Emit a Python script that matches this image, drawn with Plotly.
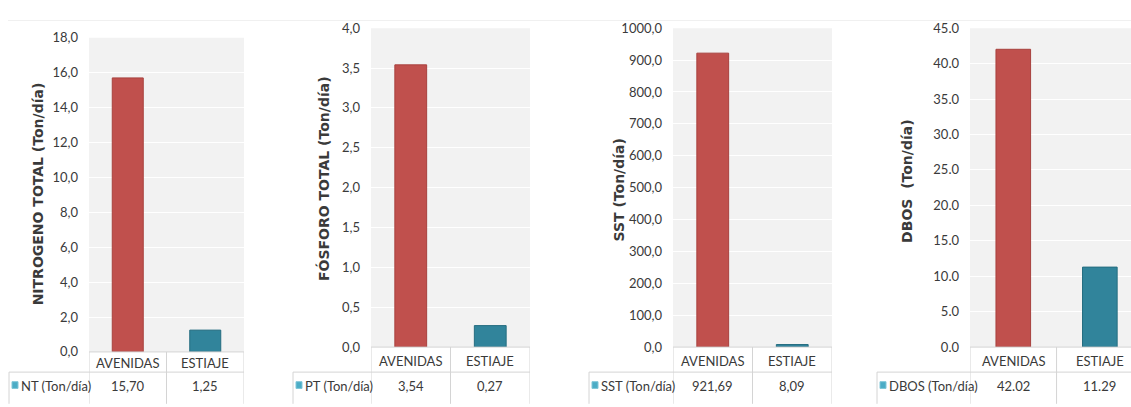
import plotly.graph_objects as go

W, H = 1131, 407

categories = ["AVENIDAS", "ESTIAJE"]
nt_values = [15.70, 1.25]
pt_values = [3.54, 0.27]
sst_values = [921.69, 8.09]
dbo_values = [42.02, 11.29]

axis_titles = ["NITROGENO TOTAL (Ton/día)", "FÓSFORO TOTAL (Ton/día)",
               "SST (Ton/día)", "DBOS  (Ton/día)"]
row_labels = ["NT (Ton/día)", "PT (Ton/día)", "SST (Ton/día)", "DBOS (Ton/día)"]
y_max = [18, 4, 1000, 45]
y_step = [2, 0.5, 100, 5]
decimal_sep = [",", ",", ",", "."]

bar_colors = ["#c0504d", "#31849b"]
bar_edges = ["#a8413e", "#256d80"]
key_color = "#4bacc6"
grid_bg = "#f2f2f2"
border = "#d4d4d4"
text_col = "#3a3a3a"
tick_font = "Lato, Roboto, sans-serif"
title_font = "DejaVu Sans, Verdana, sans-serif"

panels = [
    dict(x0=89, x1=244, top=31, base=358, div=379, left=9, tx=38, ty=194, xr=1.5),
    dict(x0=371, x1=530, top=21, base=353, div=379, left=293, tx=323, ty=178, xr=1.5),
    dict(x0=673, x1=832, top=21, base=353, div=379, left=589, tx=619, ty=190, xr=1.5),
    dict(x0=970, x1=1131, top=21, base=353, div=379, left=877, tx=907, ty=181, xr=1.36),
]
series = [nt_values, pt_values, sst_values, dbo_values]


def fx(p):
    return p / W


def fy(p):
    return 1 - p / H


def fmt(v, dec, sep):
    s = f"{v:.{dec}f}"
    return s.replace(".", sep)


fig = go.Figure()
shapes = []
annotations = []

shapes.append(dict(type="line", xref="paper", yref="paper", x0=fx(8), x1=1, y0=fy(13), y1=fy(13),
                   line=dict(color="#f0f0f0", width=1)))

for i, (p, vals) in enumerate(zip(panels, series)):
    n = i + 1
    xa = "x" if n == 1 else f"x{n}"
    ya = "y" if n == 1 else f"y{n}"
    fig.add_trace(go.Bar(
        x=categories, y=vals, xaxis=xa, yaxis=ya, width=0.4,
        marker=dict(color=bar_colors, line=dict(color=bar_edges, width=1)),
        showlegend=False, hoverinfo="x+y",
    ))
    ticks = []
    t = 0.0
    while t <= y_max[i] + 1e-9:
        ticks.append(round(t, 4))
        t += y_step[i]
    ticktext = [fmt(v, 1, decimal_sep[i]) for v in ticks]
    xkey = "xaxis" if n == 1 else f"xaxis{n}"
    ykey = "yaxis" if n == 1 else f"yaxis{n}"
    fig.update_layout(**{
        xkey: dict(domain=[fx(p["x0"]), min(1.0, fx(p["x1"]))], anchor=ya,
                   range=[-0.5, p["xr"]], showticklabels=False, showgrid=False,
                   zeroline=False, showline=False, fixedrange=True,
                   categoryorder="array", categoryarray=categories),
        ykey: dict(domain=[fy(p["base"]), fy(p["top"])], anchor=xa,
                   range=[0, y_max[i]], tickvals=ticks, ticktext=ticktext,
                   showgrid=True, gridcolor="white", gridwidth=1,
                   zeroline=False, showline=False, ticks="",
                   ticklabelstandoff=10,
                   tickfont=dict(family=tick_font, size=13, color=text_col)),
    })
    shapes.append(dict(type="rect", xref=f"{xa} domain", yref=f"{ya} domain", x0=0, x1=1, y0=0, y1=1,
                       fillcolor=grid_bg, line=dict(width=0), layer="below"))
    bot = fy(H + 5)
    shapes.append(dict(type="line", xref=f"{xa} domain", yref="paper", x0=0, x1=1,
                       y0=fy(p["base"]), y1=fy(p["base"]), line=dict(color=border, width=1)))
    shapes.append(dict(type="line", xref="paper", yref="paper", x0=fx(p["left"]), x1=min(1.0, fx(p["x1"])),
                       y0=fy(p["div"]), y1=fy(p["div"]), line=dict(color=border, width=1)))
    shapes.append(dict(type="line", xref="paper", yref="paper", x0=fx(p["left"]), x1=fx(p["left"]),
                       y0=fy(p["div"]), y1=bot, line=dict(color=border, width=1)))
    for bx in [-0.5, 0.5, 1.5]:
        shapes.append(dict(type="line", xref=xa, yref="paper", x0=bx, x1=bx,
                           y0=fy(p["base"]), y1=bot, line=dict(color=border, width=1)))
    shapes.append(dict(type="rect", xref="paper", yref="paper",
                       x0=fx(p["left"] + 3), x1=fx(p["left"] + 9),
                       y0=fy(p["div"] + 17), y1=fy(p["div"] + 10),
                       fillcolor=key_color, line=dict(color="#7fc6d8", width=1)))
    annotations.append(dict(xref="paper", yref="paper", x=fx(p["left"] + 10), y=fy(p["div"] + 14),
                            text=row_labels[i], showarrow=False, xanchor="left", yanchor="middle",
                            font=dict(family=tick_font, size=13, color=text_col)))
    rowmid1 = (p["base"] + p["div"]) / 2
    for c, v in zip(categories, vals):
        annotations.append(dict(xref=xa, yref="paper", x=c, y=fy(rowmid1 + 1), text=c, showarrow=False,
                                xanchor="center", yanchor="middle",
                                font=dict(family=tick_font, size=13, color=text_col)))
        annotations.append(dict(xref=xa, yref="paper", x=c, y=fy(p["div"] + 14),
                                text=fmt(v, 2, decimal_sep[i]), showarrow=False,
                                xanchor="center", yanchor="middle",
                                font=dict(family=tick_font, size=13, color=text_col)))
    annotations.append(dict(xref="paper", yref="paper", x=fx(p["tx"]), y=fy(p["ty"]), text=f"<b>{axis_titles[i]}</b>",
                            textangle=-90, showarrow=False, xanchor="center", yanchor="middle",
                            font=dict(family=title_font, size=14, color=text_col)))

fig.update_layout(width=W, height=H, margin=dict(l=0, r=0, t=0, b=0),
                  paper_bgcolor="white", plot_bgcolor="rgba(0,0,0,0)",
                  shapes=shapes, annotations=annotations, bargap=0.6, showlegend=False)

fig.write_html("out.html", config={"displayModeBar": False})
